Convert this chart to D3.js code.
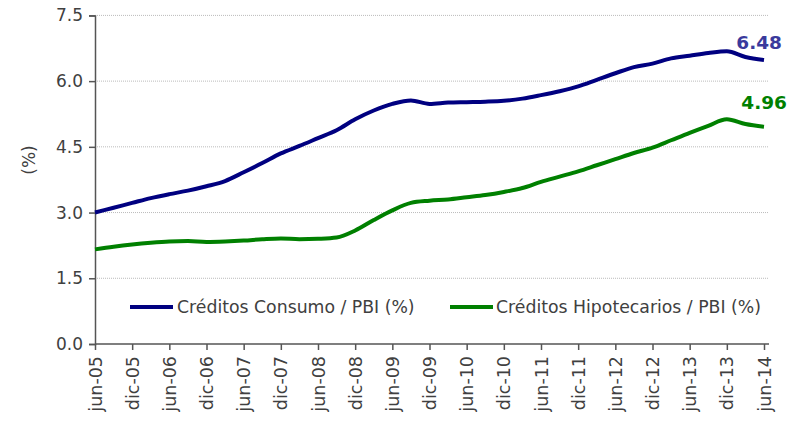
<!DOCTYPE html>
<html><head><meta charset="utf-8">
<script src="https://cdn.jsdelivr.net/npm/d3@7"></script>
<style>body{margin:0;background:#fff}svg{display:block}</style>
</head><body>
<svg id="c" width="796" height="423"></svg>
<script>
const tickLabels = ["jun-05","dic-05","jun-06","dic-06","jun-07","dic-07","jun-08","dic-08","jun-09","dic-09","jun-10","dic-10","jun-11","dic-11","jun-12","dic-12","jun-13","dic-13","jun-14"];
// quarterly observations, jun-05 .. jun-14 (37 points)
const consumo = [3.00,3.11,3.22,3.33,3.42,3.50,3.60,3.72,3.92,4.13,4.35,4.52,4.70,4.88,5.13,5.33,5.48,5.56,5.48,5.51,5.52,5.53,5.55,5.60,5.68,5.77,5.88,6.03,6.18,6.32,6.40,6.52,6.58,6.64,6.68,6.55,6.48];
const hipotecario = [2.16,2.22,2.27,2.31,2.34,2.35,2.33,2.34,2.36,2.39,2.41,2.39,2.40,2.43,2.59,2.83,3.05,3.22,3.27,3.30,3.35,3.40,3.47,3.56,3.70,3.82,3.94,4.08,4.22,4.36,4.48,4.65,4.82,4.98,5.13,5.02,4.96];
const yTicks = [0,1.5,3.0,4.5,6.0,7.5];
const seriesNames = ["Créditos Consumo / PBI (%)","Créditos Hipotecarios / PBI (%)"];
const colors = ["#000080","#008000"];
const endLabelColors = ["#3a3a9c","#008000"];

const font = "Tahoma, 'DejaVu Sans', sans-serif";
const svg = d3.select("#c");
const L = 95, R = 764, T = 15.4, B = 344;
const x = d3.scaleLinear().domain([0, consumo.length-1]).range([L, R]);
const y = d3.scaleLinear().domain([0, 7.5]).range([B, T]);

// grid
svg.append("g").selectAll("line").data(yTicks.filter(d=>d>0)).join("line")
  .attr("x1", L).attr("x2", 769).attr("y1", d=>y(d)).attr("y2", d=>y(d))
  .attr("stroke", "#bbb").attr("stroke-width", 1).attr("stroke-dasharray", "1,1");

// y axis
const ya = svg.append("g").attr("transform", `translate(${L},0)`)
  .call(d3.axisLeft(y).tickValues(yTicks).tickFormat(d3.format(".1f")).tickSize(6).tickPadding(6));
ya.select(".domain").attr("stroke", "#555").attr("stroke-width", 1.5);
ya.selectAll(".tick line").attr("stroke", "#555").attr("stroke-width", 1.5);
ya.selectAll("text").attr("font-family", font).attr("font-size", 17).attr("fill", "#404040");

// x axis
const xt = d3.scaleLinear().domain([0, tickLabels.length-1]).range([L, R]);
const xa = svg.append("g").attr("transform", `translate(0,${B})`)
  .call(d3.axisBottom(xt).tickValues(d3.range(tickLabels.length)).tickFormat(i=>tickLabels[i]).tickSize(6).tickSizeOuter(0));
xa.select(".domain").attr("d", `M${L},0H769`).attr("stroke", "#555").attr("stroke-width", 1.5);
xa.selectAll(".tick line").attr("stroke", "#555").attr("stroke-width", 1.5);
xa.selectAll("text").attr("font-family", font).attr("font-size", 17.5).attr("fill", "#404040")
  .attr("transform", "rotate(-90)").attr("text-anchor", "end").attr("dy", "0.35em").attr("x", -12).attr("y", 0);

// y label
svg.append("text").attr("transform", "translate(35,160) rotate(-90)").attr("text-anchor","middle")
  .attr("font-family", font).attr("font-size", 17).attr("fill", "#404040").text("(%)");

// lines
const line = d3.line().x((d,i)=>x(i)).y(d=>y(d)).curve(d3.curveMonotoneX);
[consumo, hipotecario].forEach((s,k)=>{
  svg.append("path").datum(s).attr("d", line).attr("fill","none")
    .attr("stroke", colors[k]).attr("stroke-width", 4).attr("stroke-linejoin","round");
});

// end labels
svg.append("text").attr("x", x(consumo.length-1)+18).attr("y", 49).attr("text-anchor","end")
  .attr("font-family", font).attr("font-size", 18.5).attr("font-weight","bold").attr("fill", endLabelColors[0])
  .text(d3.format(".2f")(consumo[consumo.length-1]));
svg.append("text").attr("x", x(hipotecario.length-1)+23).attr("y", 109).attr("text-anchor","end")
  .attr("font-family", font).attr("font-size", 18.5).attr("font-weight","bold").attr("fill", endLabelColors[1])
  .text(d3.format(".2f")(hipotecario[hipotecario.length-1]));

// legend
const leg = [{x:130, tx:177},{x:450, tx:496}];
leg.forEach((p,k)=>{
  svg.append("line").attr("x1", p.x).attr("x2", p.x+43).attr("y1", 307).attr("y2", 307)
    .attr("stroke", colors[k]).attr("stroke-width", 4);
  svg.append("text").attr("x", p.tx).attr("y", 307).attr("dy","0.35em")
    .attr("font-family", font).attr("font-size", 17.3).attr("fill", "#404040").text(seriesNames[k]);
});
</script>
</body></html>
